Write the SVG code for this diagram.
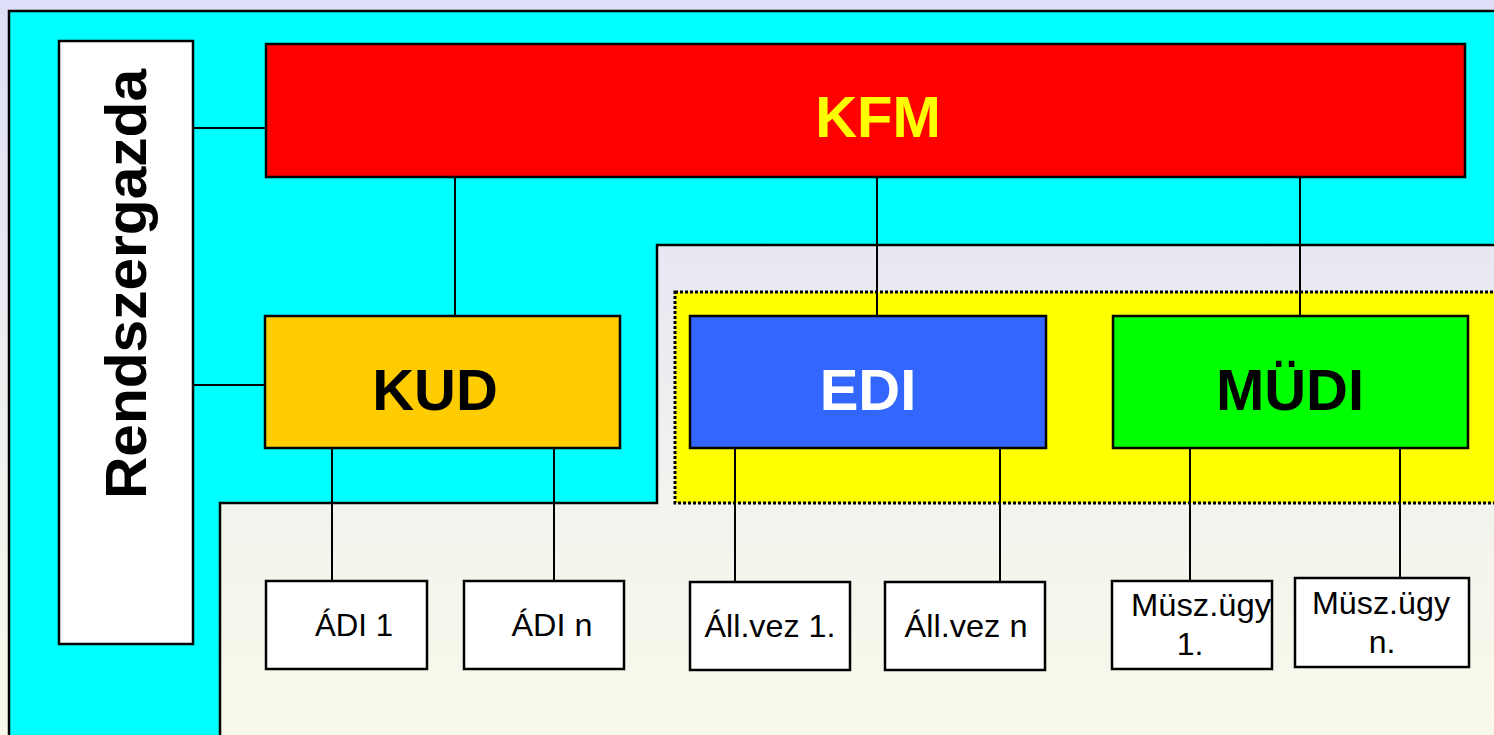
<svg xmlns="http://www.w3.org/2000/svg" width="1494" height="735" viewBox="0 0 1494 735">
<defs>
<linearGradient id="bg" gradientUnits="userSpaceOnUse" x1="0" y1="0" x2="0" y2="735">
<stop offset="0" stop-color="#DEDEF8"/>
<stop offset="0.35" stop-color="#E8E8F3"/>
<stop offset="0.7" stop-color="#F3F3EE"/>
<stop offset="1" stop-color="#F9F9EA"/>
</linearGradient>
<style>
.box{stroke:#000;stroke-width:2.5}
.leaf{fill:#fff;stroke:#000;stroke-width:2.5}
.conn line{stroke:#000;stroke-width:2}
.big{font-family:"Liberation Sans",Arial,sans-serif;font-weight:bold;font-size:58px;text-anchor:middle}
.small{font-family:"Liberation Sans",Arial,sans-serif;font-size:32px;text-anchor:middle;fill:#000}
</style>
</defs>
<rect x="0" y="0" width="1494" height="735" fill="url(#bg)"/>
<rect x="9" y="11" width="1500" height="740" fill="#00FFFF" stroke="#000" stroke-width="2.5"/>
<path d="M220,745 L220,503 L657,503 L657,245 L1500,245 L1500,745 Z" fill="url(#bg)" stroke="#000" stroke-width="2.5"/>
<rect x="675" y="292" width="830" height="211" fill="#FFFF00" stroke="#000" stroke-width="3" stroke-dasharray="3,2"/>

<g class="conn" id="connectors">
<line x1="193" y1="128" x2="266" y2="128"/>
<line x1="193" y1="385" x2="265" y2="385"/>
<line x1="455" y1="177" x2="455" y2="316"/>
<line x1="877" y1="177" x2="877" y2="316"/>
<line x1="1300" y1="177" x2="1300" y2="316"/>
<line x1="332" y1="448" x2="332" y2="581"/>
<line x1="554" y1="448" x2="554" y2="581"/>
<line x1="735" y1="448" x2="735" y2="582"/>
<line x1="1000" y1="448" x2="1000" y2="582"/>
<line x1="1190" y1="448" x2="1190" y2="581"/>
<line x1="1400" y1="448" x2="1400" y2="578"/>
</g>

<g id="rendszergazda">
<rect class="box" x="59" y="41" width="134" height="603" fill="#fff"/>
<text class="big" fill="#000" transform="translate(146,284) rotate(-90)" textLength="430" lengthAdjust="spacingAndGlyphs">Rendszergazda</text>
</g>
<g id="kfm">
<rect class="box" x="266" y="44" width="1199" height="133" fill="#FF0000"/>
<text class="big" x="878" y="137" fill="#FFFF00">KFM</text>
</g>
<g id="kud">
<rect class="box" x="265" y="316" width="355" height="132" fill="#FFCC00"/>
<text class="big" x="435" y="410" fill="#000">KUD</text>
</g>
<g id="edi">
<rect class="box" x="690" y="316" width="356" height="132" fill="#3366FF"/>
<text class="big" x="868" y="410" fill="#fff">EDI</text>
</g>
<g id="mudi">
<rect class="box" x="1113" y="316" width="355" height="132" fill="#00FF00"/>
<text class="big" x="1290" y="410" fill="#000">MÜDI</text>
</g>

<g id="adi1">
<rect class="leaf" x="266" y="581" width="161" height="88"/>
<text class="small" x="354" y="636" textLength="78" lengthAdjust="spacingAndGlyphs">ÁDI 1</text>
</g>
<g id="adin">
<rect class="leaf" x="464" y="581" width="160" height="88"/>
<text class="small" x="552" y="636" textLength="81" lengthAdjust="spacingAndGlyphs">ÁDI n</text>
</g>
<g id="allvez1">
<rect class="leaf" x="690" y="582" width="160" height="88"/>
<text class="small" x="770" y="637" textLength="131" lengthAdjust="spacingAndGlyphs">Áll.vez 1.</text>
</g>
<g id="allvezn">
<rect class="leaf" x="885" y="582" width="160" height="88"/>
<text class="small" x="966" y="637" textLength="123" lengthAdjust="spacingAndGlyphs">Áll.vez n</text>
</g>
<g id="muszugy1">
<rect class="leaf" x="1112" y="581" width="160" height="88"/>
<text class="small" x="1201" y="616" textLength="140" lengthAdjust="spacingAndGlyphs">Müsz.ügy</text>
<text class="small" x="1190" y="655">1.</text>
</g>
<g id="muszugyn">
<rect class="leaf" x="1295" y="578" width="174" height="89"/>
<text class="small" x="1381" y="614" textLength="138" lengthAdjust="spacingAndGlyphs">Müsz.ügy</text>
<text class="small" x="1382" y="653">n.</text>
</g>
</svg>
